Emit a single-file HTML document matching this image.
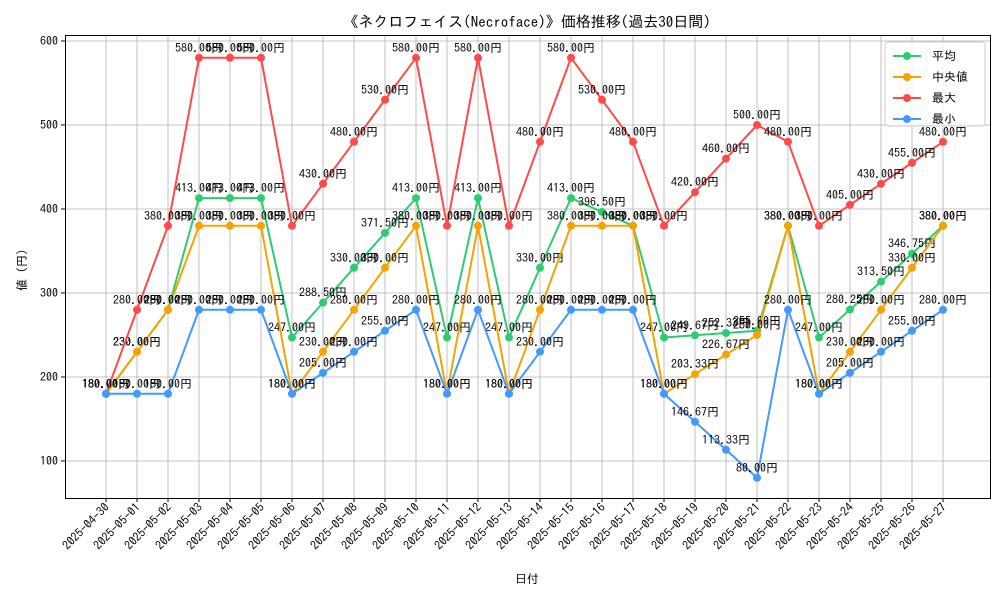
<!DOCTYPE html>
<html><head><meta charset="utf-8"><style>
body{margin:0;background:#fff}
svg text{font-family:"IPAGothic","Noto Sans CJK JP",monospace}
</style></head><body>
<svg id="c" width="1000" height="600" xmlns="http://www.w3.org/2000/svg">
<rect width="1000" height="600" fill="#fff"/>
<text x="527" y="27" text-anchor="middle" font-size="15">《ネクロフェイス(Necroface)》価格推移(過去30日間)</text>
<text x="527" y="583" text-anchor="middle" font-size="12">日付</text>
<text transform="translate(26,267) rotate(-90)" text-anchor="middle" font-size="12">値（円）</text>
<g id="grid"></g><g id="ticks"></g><g id="series"></g>
<rect x="65.5" y="35.5" width="925" height="463" fill="none" stroke="#000" stroke-width="1"/>
<g id="legend"></g>
</svg>
<script>
const dates=["2025-04-30","2025-05-01","2025-05-02","2025-05-03","2025-05-04","2025-05-05","2025-05-06","2025-05-07","2025-05-08","2025-05-09","2025-05-10","2025-05-11","2025-05-12","2025-05-13","2025-05-14","2025-05-15","2025-05-16","2025-05-17","2025-05-18","2025-05-19","2025-05-20","2025-05-21","2025-05-22","2025-05-23","2025-05-24","2025-05-25","2025-05-26","2025-05-27"];
const avgVals=[180,230,280,413,413,413,247,288.5,330,371.5,413,247,413,247,330,413,396.5,380,247,249.67,252.33,255,380,247,280.25,313.5,346.75,380];
const medVals=[180,230,280,380,380,380,180,230,280,330,380,180,380,180,280,380,380,380,180,203.33,226.67,250,380,180,230,280,330,380];
const maxVals=[180,280,380,580,580,580,380,430,480,530,580,380,580,380,480,580,530,480,380,420,460,500,480,380,405,430,455,480];
const minVals=[180,180,180,280,280,280,180,205,230,255,280,180,280,180,230,280,280,280,180,146.67,113.33,80,280,180,205,230,255,280];
const yTicks=[100,200,300,400,500,600];
const NS="http://www.w3.org/2000/svg";
const X=i=>106+i*(943-106)/(dates.length-1);
const Y=v=>545-v*0.84;
function mk(tag,attrs,parent,txt){const e=document.createElementNS(NS,tag);for(const k in attrs)e.setAttribute(k,attrs[k]);if(txt!==undefined)e.textContent=txt;parent.appendChild(e);return e;}
const grid=document.getElementById('grid'),ticks=document.getElementById('ticks'),ser=document.getElementById('series'),leg=document.getElementById('legend');
yTicks.forEach(v=>{
 const l=mk('line',{x1:65,x2:990,y1:Y(v),y2:Y(v),stroke:'#b0b0b0','stroke-width':0.8},grid);
 
 
 mk('line',{x1:61,x2:65,y1:Y(v),y2:Y(v),stroke:'#000'},ticks);
 const t=mk('text',{x:58,y:Y(v)+4,'text-anchor':'end','font-size':12},ticks,v);
 
 
});
dates.forEach((d,i)=>{
 const l=mk('line',{x1:X(i),x2:X(i),y1:35,y2:498,stroke:'#b0b0b0','stroke-width':0.8},grid);
 
 
 mk('line',{x1:X(i),x2:X(i),y1:498,y2:502,stroke:'#000'},ticks);
 const t=mk('text',{transform:`translate(${X(i)+4},${508}) rotate(-45)`,'text-anchor':'end','font-size':12},ticks,d);
 
 
});
const series=[["平均",avgVals,"#2ecc71"],["中央値",medVals,"#f5a300"],["最大",maxVals,"#ff4a4a"],["最小",minVals,"#4499ff"]];
series.forEach(([name,vals,col],si)=>{
 const g=mk('g',{},ser);
 
 
 const p=mk('polyline',{points:vals.map((v,i)=>X(i)+','+Y(v)).join(' '),fill:'none',stroke:col,'stroke-width':2},g);
 
 
 vals.forEach((v,i)=>{
  const c=mk('circle',{cx:X(i),cy:Y(v),r:4,fill:col},g);
  
  
  const t=mk('text',{x:X(i),y:Y(v)-6,'text-anchor':'middle','font-size':12},g,v.toFixed(2)+'円');
  
  
 });
 const ly=56+si*21;
 const e=mk('g',{},leg);
 
 
 if(si===0){const b=mk('rect',{x:885,y:42,width:100,height:84,fill:'#fff','fill-opacity':0.8,stroke:'#ccc',rx:3},leg);leg.insertBefore(b,leg.firstChild);}
 mk('line',{x1:893,x2:921,y1:ly,y2:ly,stroke:col,'stroke-width':2},e);
 mk('circle',{cx:907,cy:ly,r:4,fill:col},e);
 mk('text',{x:932,y:ly+4,'font-size':12},e,name);
});
</script>
</body></html>
